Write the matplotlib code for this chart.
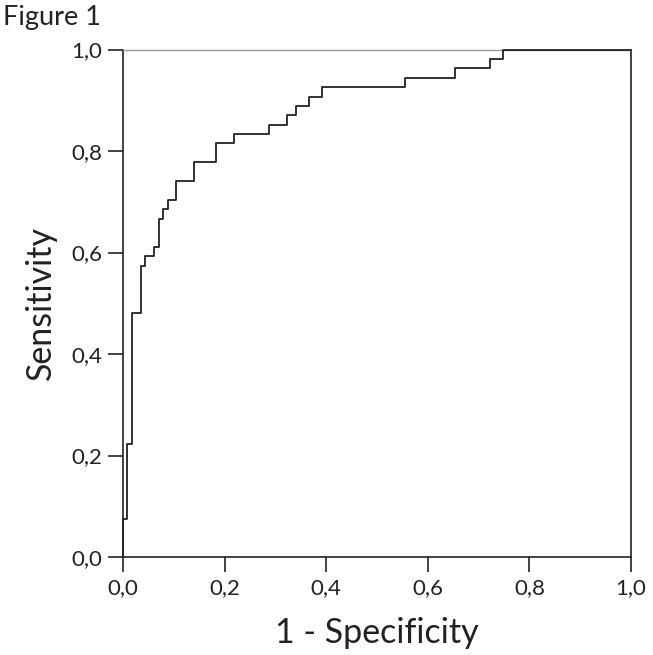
import matplotlib
matplotlib.use("Agg")
import matplotlib.pyplot as plt
from matplotlib.ticker import FuncFormatter

# ROC curve corner points (1 - specificity, sensitivity)
fpr = [0.0, 0.0, 0.008, 0.018, 0.035, 0.043, 0.061, 0.070, 0.079, 0.088, 0.105,
       0.139, 0.184, 0.218, 0.288, 0.323, 0.340, 0.366, 0.392, 0.556, 0.654,
       0.723, 0.749, 1.0]
tpr = [0.0, 0.074, 0.222, 0.481, 0.574, 0.593, 0.611, 0.667, 0.685, 0.704, 0.741,
       0.778, 0.815, 0.833, 0.852, 0.870, 0.889, 0.907, 0.926, 0.944, 0.963,
       0.981, 1.0, 1.0]
ticks = [0.0, 0.2, 0.4, 0.6, 0.8, 1.0]

plt.rcParams["font.family"] = ["Lato", "DejaVu Sans"]

fig = plt.figure(figsize=(6.53, 6.55), dpi=100)
ax = fig.add_axes([0.1884, 0.1496, 0.7779, 0.7748])

ax.step(fpr, tpr, where="post", color="#222222", lw=1.3, clip_on=False, zorder=3)

ax.set_xlim(0, 1)
ax.set_ylim(0, 1)
ax.set_xticks(ticks)
ax.set_yticks(ticks)
comma = FuncFormatter(lambda v, p: f"{v:.1f}".replace(".", ","))
ax.xaxis.set_major_formatter(comma)
ax.yaxis.set_major_formatter(comma)
ax.tick_params(direction="out", length=11, width=1.2, labelsize=16,
               pad=4, colors="#222222")

for s in ["left", "bottom", "right"]:
    ax.spines[s].set_color("#222222")
    ax.spines[s].set_linewidth(1.2)
ax.spines["top"].set_color("#999999")
ax.spines["top"].set_linewidth(1.0)

ax.set_xlabel("1 - Specificity", fontsize=24.5, labelpad=14, color="#222222")
ax.set_ylabel("Sensitivity", fontsize=24.5, labelpad=10, color="#222222")

fig.text(0.005, 0.973, "Figure 1", fontsize=19.5, va="center", ha="left",
         color="#222222")

fig.savefig("out.png", dpi=100)
plt.close()
